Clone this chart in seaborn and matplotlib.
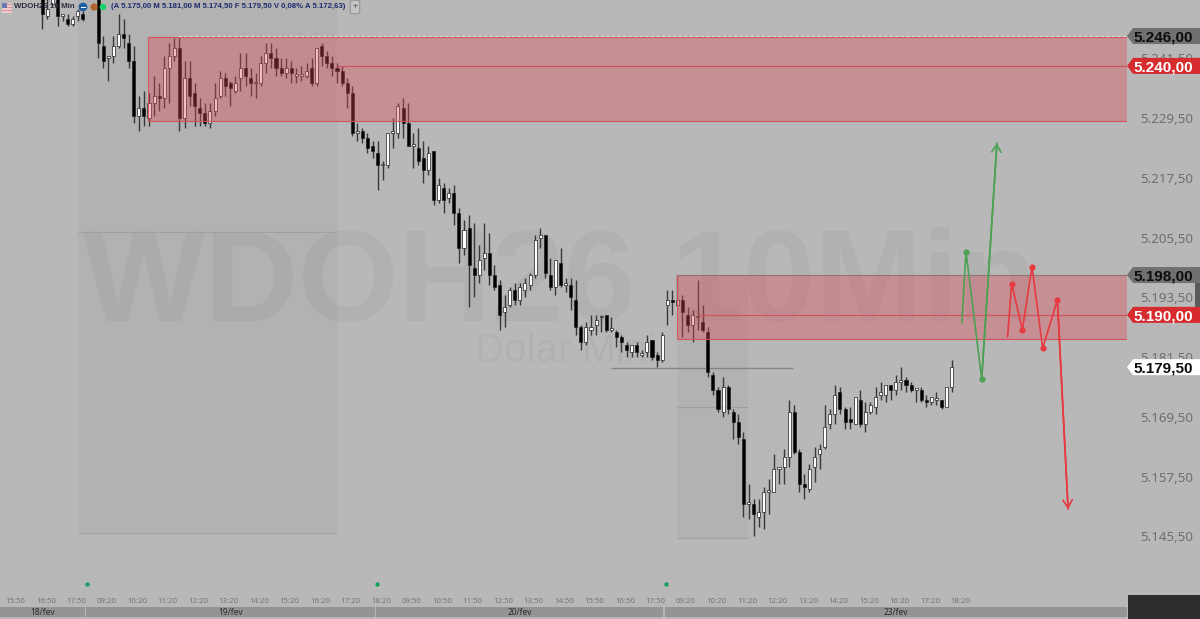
import numpy as np
import pandas as pd
import matplotlib
matplotlib.use("Agg")
import matplotlib.pyplot as plt
from matplotlib.patches import Polygon, Rectangle, Circle
from matplotlib.transforms import IdentityTransform
import seaborn as sns

# ── Data ──────────────────────────────────────────────────────
opens = [5256, 5250, 5252.5, 5256, 5250, 5249.5, 5248.5, 5250, 5250.5, 5256, 5255, 5256, 5244, 5241.5, 5242, 5244, 5246.5, 5244.5, 5241, 5230,
         5231.5, 5229.5, 5232.5, 5234, 5233.5, 5239.5, 5242, 5243.5, 5229.5, 5237.5, 5234.5, 5231.5, 5230.5, 5228.5, 5231, 5234, 5237.5, 5236.5, 5235, 5237.5,
         5239.5, 5237.5, 5236.5, 5236.5, 5240.5, 5242.5, 5241.5, 5239.5, 5238.5, 5239.5, 5238, 5238, 5238, 5239.5, 5236.5, 5244, 5242, 5240.5, 5239.5, 5239,
         5236.5, 5234.5, 5226.5, 5227, 5225.5, 5224, 5222.5, 5220, 5220, 5226.5, 5226.5, 5231.5, 5228.5, 5224, 5223.5, 5221.5, 5219, 5223, 5213, 5215.5,
         5213.5, 5214.5, 5210.5, 5203.5, 5207.5, 5199.5, 5198, 5201.5, 5202.5, 5198, 5196, 5190.5, 5192, 5195, 5193, 5195, 5196, 5198, 5205.5, 5206,
         5198, 5195.5, 5200.5, 5196, 5196, 5193, 5187.5, 5184.5, 5187, 5188, 5189.5, 5190, 5187, 5186.5, 5185.5, 5184, 5182.5, 5184, 5182, 5182.5,
         5185, 5182, 5181, 5192, 5193, 5192, 5193, 5190, 5188, 5189.5, 5188.5, 5186.5, 5178, 5175, 5170.5, 5175.5, 5170.5, 5168.5, 5165, 5152,
         5152, 5149.5, 5150.5, 5154.5, 5154.5, 5159, 5159.5, 5161.5, 5170.5, 5162.5, 5156, 5155, 5159.5, 5162, 5163.5, 5168, 5170, 5174.5, 5171, 5169,
         5168, 5173, 5168, 5170.5, 5171.5, 5174, 5174, 5176, 5175, 5176.5, 5177, 5176, 5175, 5175, 5173, 5172.5, 5173, 5173, 5171.5, 5175.5]
highs = [5258, 5254, 5256, 5257, 5250.5, 5250.5, 5250, 5251.5, 5251, 5257, 5257, 5257, 5246, 5242, 5246, 5250.5, 5249.5, 5246.5, 5244, 5234,
         5235, 5234.5, 5238, 5236.5, 5242, 5244.5, 5245.5, 5246, 5241, 5241, 5236.5, 5233.5, 5232.5, 5232.5, 5236.5, 5239, 5238.5, 5237, 5238, 5242.5,
         5242.5, 5239.5, 5238.5, 5242, 5244.5, 5244.5, 5243.5, 5241.5, 5241.5, 5241, 5239.5, 5240, 5240.5, 5241.5, 5243.5, 5244.5, 5243, 5242, 5240.5, 5240,
         5237.5, 5236, 5228.5, 5227.5, 5226.5, 5225, 5225, 5221, 5226.5, 5229.5, 5232.5, 5233.5, 5232.5, 5226.5, 5227.5, 5225, 5224, 5223, 5217.5, 5216.5,
         5215.5, 5216, 5211.5, 5209, 5210, 5208.5, 5204, 5208.5, 5206.5, 5200, 5197, 5194, 5195.5, 5196.5, 5196.5, 5197.5, 5198.5, 5206, 5207.5, 5206,
         5201.5, 5201, 5203.5, 5197.5, 5197.5, 5197, 5188, 5188.5, 5190, 5190, 5190, 5190, 5189.5, 5187, 5186, 5184.5, 5184, 5184.5, 5183, 5186,
         5185, 5182.5, 5186.5, 5195, 5195, 5198, 5194, 5191.5, 5191, 5197, 5192, 5187.5, 5178.5, 5175.5, 5177.5, 5176, 5171, 5170, 5166.5, 5156,
         5153, 5153, 5155.5, 5157, 5162, 5159.5, 5163, 5173, 5172, 5163, 5158, 5160, 5163.5, 5164, 5172, 5171, 5176, 5175.5, 5171.5, 5171.5,
         5173.5, 5175, 5172.5, 5172.5, 5175.5, 5176.5, 5176, 5176, 5178, 5179.5, 5177.5, 5176.5, 5175, 5175.5, 5174, 5173.5, 5174.5, 5173, 5175.5, 5181]
lows = [5247.5, 5249.5, 5252, 5248, 5249, 5248, 5248, 5249, 5249, 5253.5, 5254, 5241.5, 5239.5, 5237, 5240.5, 5243.5, 5243.5, 5239.5, 5228.5, 5227,
        5228, 5228, 5230, 5231, 5231.5, 5232.5, 5241, 5227, 5227.5, 5232, 5228, 5228, 5228, 5227.5, 5230, 5233.5, 5234, 5232, 5234.5, 5235,
        5236, 5234, 5233.5, 5236, 5238.5, 5239.5, 5238, 5238, 5237.5, 5236.5, 5236.5, 5237, 5237.5, 5236, 5236, 5240, 5239.5, 5238, 5236.5, 5236,
        5231.5, 5226, 5225, 5224.5, 5222.5, 5221.5, 5215, 5217, 5219.5, 5223.5, 5225.5, 5225.5, 5224, 5219.5, 5220, 5216.5, 5218, 5212, 5212.5, 5210.5,
        5212.5, 5208, 5200.5, 5202, 5191.5, 5193.5, 5196.5, 5199, 5196, 5195, 5187, 5187.5, 5191.5, 5192, 5192, 5193.5, 5195, 5197.5, 5203.5, 5197.5,
        5195, 5194, 5195.5, 5194.5, 5191, 5186, 5183, 5184, 5186, 5186, 5186.5, 5186.5, 5186.5, 5183.5, 5182.5, 5181.5, 5181.5, 5181.5, 5181.5, 5181.5,
        5181, 5179.5, 5180.5, 5188, 5190, 5191.5, 5185.5, 5186.5, 5184.5, 5187, 5186.5, 5177.5, 5174, 5170.5, 5169.5, 5170, 5165, 5164, 5149.5, 5149,
        5145.5, 5147.5, 5147, 5150, 5154.5, 5156, 5156, 5159.5, 5162, 5154.5, 5153, 5154.5, 5156.5, 5159, 5163, 5167, 5168, 5170, 5167, 5167,
        5168, 5167.5, 5166.5, 5170, 5170, 5173, 5172.5, 5173, 5174, 5175, 5174.5, 5174.5, 5172.5, 5172.5, 5171.5, 5172, 5172, 5171, 5171.5, 5174.5]
closes = [5250.5, 5251.5, 5254, 5250, 5250, 5248.5, 5249.5, 5251, 5249.5, 5254, 5256, 5244.5, 5241, 5242, 5244, 5246.5, 5245.5, 5241, 5230, 5231.5,
          5230, 5232.5, 5234, 5233.5, 5239.5, 5242, 5243.5, 5229.5, 5237.5, 5234, 5232, 5230.5, 5228.5, 5231, 5233.5, 5237.5, 5236, 5235.5, 5236.5, 5239.5,
          5238, 5236.5, 5236.5, 5240.5, 5242.5, 5241.5, 5239.5, 5238.5, 5239.5, 5238.5, 5238, 5238, 5239, 5236.5, 5243.5, 5242, 5240.5, 5239.5, 5239, 5236.5,
          5234.5, 5226.5, 5226.5, 5225.5, 5223.5, 5223, 5220, 5220, 5226.5, 5226.5, 5232, 5228.5, 5224, 5224, 5221, 5219, 5222.5, 5213, 5216, 5213,
          5214.5, 5210.5, 5203.5, 5207, 5200, 5198, 5201, 5202.5, 5198, 5195.5, 5190, 5191.5, 5195, 5193, 5195.5, 5196.5, 5198, 5205, 5206, 5198.5,
          5195.5, 5201, 5196, 5196, 5193.5, 5187.5, 5184.5, 5187.5, 5187.5, 5189, 5189.5, 5187, 5187, 5185.5, 5184.5, 5183, 5184, 5182.5, 5182, 5184.5,
          5181.5, 5181, 5186, 5193, 5192.5, 5193, 5190.5, 5188, 5190, 5189.5, 5187, 5178.5, 5175, 5171, 5175.5, 5171, 5168.5, 5165.5, 5152, 5152,
          5150, 5150.5, 5154.5, 5154.5, 5159, 5159.5, 5161.5, 5170.5, 5162.5, 5156, 5155.5, 5159, 5161.5, 5163, 5167.5, 5170, 5174, 5171, 5168.5, 5168.5,
          5173.5, 5168, 5170.5, 5172, 5173.5, 5174.5, 5176, 5175, 5176.5, 5177, 5176, 5175, 5175, 5173, 5172.5, 5173.5, 5173, 5171.5, 5175.5, 5179.5]

x_tick_labels = ["15:50", "16:50", "17:50", "09:20", "10:20", "11:20", "12:20", "13:20", "14:20", "15:20", "16:20",
                 "17:20", "18:20", "09:50", "10:50", "11:50", "12:50", "13:50", "14:50", "15:50", "16:50", "17:50",
                 "09:20", "10:20", "11:20", "12:20", "13:20", "14:20", "15:20", "16:20", "17:20", "18:20"]
y_tick_values = [5241.5, 5229.5, 5217.5, 5205.5, 5193.5, 5181.5, 5169.5, 5157.5, 5145.5]
y_tick_labels = ["5.241,50", "5.229,50", "5.217,50", "5.205,50", "5.193,50", "5.181,50", "5.169,50", "5.157,50", "5.145,50"]

session_labels = ["18/fev", "19/fev", "20/fev", "23/fev"]
session_starts = [-8.33, 8.6, 65.7, 122.6]
session_ends = [8.4, 65.5, 122.2, 213.5]
session_dot_x = [8.8, 65.9, 122.8]
session_dot_y = [5136, 5136, 5136]

green_x = [181, 181.8, 184.9, 187.9]
green_y = [5188.4, 5202.7, 5177.1, 5224.5]
red_x = [190, 190.8, 192.9, 194.8, 196.9, 199.8, 201.9]
red_y = [5185.6, 5196.3, 5187, 5199.7, 5183.3, 5193, 5151]

BG = "#b8b8b8"
ZONE = "#dc4a58"
TAG_RED = "#d62b2f"
TAG_GREY = "#707070"
LINE_RED = "#d6525b"

sns.set_theme(style="white", rc={"figure.facecolor": BG, "axes.facecolor": BG})
plt.rcParams["font.family"] = ["Noto Sans", "DejaVu Sans"]

W, H = 1200, 619
fig = plt.figure(figsize=(W / 100, H / 100), dpi=100, facecolor=BG)
ax = fig.add_axes([0, 1 - 595 / H, 1127 / W, 595 / H])
ax_dates = fig.add_axes([0, 1 - 617 / H, 1127 / W, 10.5 / H], sharex=ax)

ax.set_xlim(-8.33, 213.5)
ax.set_ylim(5133.75, 5253.23)
for spine in ax.spines.values():
    spine.set_visible(False)
ax.set_facecolor(BG)

# watermark
ax.text(0.497, 1 - 321 / 595, "WDOH26 10Min", transform=ax.transAxes, ha="center", va="baseline",
        fontsize=93, fontweight="bold", family="Liberation Sans", color="#b1b1b1", zorder=0)
ax.text(0.502, 1 - 362 / 595, "Dolar Mini", transform=ax.transAxes, ha="center", va="baseline",
        fontsize=29, family="Liberation Sans", color="#b1b1b1", zorder=0)

# shaded ranges behind the candles
for x0, x1, y0, y1, ymid in [(7, 58, 5146.2, 5253.23, 5206.6), (124.9, 138.9, 5145.2, 5198, 5171.5)]:
    ax.add_patch(Rectangle((x0, y0), x1 - x0, y1 - y0, facecolor="black", alpha=0.03, edgecolor="none", zorder=1))
    ax.hlines([y0, ymid], x0, x1, color="#a0a0a0", lw=0.8, zorder=1.5)
ax.hlines(5179.4, 112, 147.8, color="#868686", lw=1.0, zorder=1.5)

# candles
df = pd.DataFrame({"open": opens, "high": highs, "low": lows, "close": closes})
df["bar"] = np.arange(len(df))
df["top"] = df[["open", "close"]].max(axis=1)
df["bot"] = df[["open", "close"]].min(axis=1)
colors = ["white" if c >= o else "black" for o, c in zip(df["open"], df["close"])]
ax.vlines(df["bar"], df["low"], df["high"], color="#383838", lw=1.0, zorder=2)
ax.bar(df["bar"], (df["top"] - df["bot"]).clip(lower=0.35), bottom=df["bot"], width=0.6,
       color=colors, edgecolor="#222222", linewidth=0.5, zorder=3)

# supply zones, over the candles
for x0, y0, y1, top_col in [(20.8, 5228.9, 5245.8, LINE_RED), (124.9, 5185.1, 5198, "#8f7676")]:
    ax.add_patch(Rectangle((x0, y0), 213.5 - x0, y1 - y0, facecolor=ZONE, alpha=0.37, edgecolor="none", zorder=4))
    ax.hlines(y0, x0, 213.5, color=LINE_RED, lw=0.8, zorder=4.5)
    ax.hlines(y1, x0, 213.5, color=top_col, lw=0.8, zorder=4.5)
ax.vlines([20.8, 124.9], [5228.9, 5185.1], [5245.8, 5198], color=LINE_RED, lw=0.7, zorder=4.5)
ax.hlines(5240, 58, 213.5, color=LINE_RED, lw=0.8, zorder=4.5)
ax.hlines(5190, 129, 213.5, color=LINE_RED, lw=0.8, zorder=4.5)
ax.hlines(5246, 26.7, 213.5, color="#dcdcdc", lw=0.8, linestyles=(0, (3, 2)), zorder=4.5)

# projected paths
for xs, ys, col in [(green_x, green_y, "#4da153"), (red_x, red_y, "#e63a40")]:
    path = pd.DataFrame({"x": xs, "y": ys})
    sns.lineplot(data=path, x="x", y="y", sort=False, estimator=None, color=col, lw=1.2, ax=ax, zorder=6)
    sns.scatterplot(data=path.iloc[1:-1], x="x", y="y", color=col, s=20, linewidth=0, ax=ax, zorder=7)
    ax.annotate("", xy=(xs[-1], ys[-1]), xytext=(xs[-2], ys[-2]), zorder=6,
                arrowprops=dict(arrowstyle="->,head_length=0.45,head_width=0.28", color=col, lw=1.2,
                                shrinkA=0, shrinkB=0))

sns.scatterplot(x=session_dot_x, y=session_dot_y, color="#16a05e", s=10, linewidth=0, ax=ax, zorder=6)

ax.set_xlabel("")
ax.set_ylabel("")
ax.set_xticks(-5.3 + 6 * np.arange(len(x_tick_labels)))
ax.set_xticklabels(x_tick_labels)
ax.tick_params(axis="x", length=0, pad=2.2, labelsize=5.6, labelcolor="#747474", labelbottom=True)
ax.yaxis.tick_right()
ax.set_yticks(y_tick_values)
ax.set_yticklabels(y_tick_labels)
ax.tick_params(axis="y", length=0, pad=9.2, labelsize=9.6, labelcolor="#6e6e6e")

# date strip
ax_dates.set_ylim(0, 1)
ax_dates.axis("off")
ax_dates.barh([0.5] * 4, np.array(session_ends) - np.array(session_starts), left=session_starts, height=1,
              color="#949494", linewidth=0)
for s0, s1, lab in zip(session_starts, session_ends, session_labels):
    ax_dates.text((s0 + s1) / 2, 0.45, lab, ha="center", va="center", fontsize=6, color="#2a2a2a")


# price tags on the right, in pixel space
def price_tag(price, text, face, tcolor):
    yd = ax.transData.transform((0, price))[1]
    fig.add_artist(Polygon([(1127, yd), (1133, yd + 8), (1200, yd + 8), (1200, yd - 8), (1133, yd - 8)],
                           closed=True, facecolor=face, edgecolor="none", transform=IdentityTransform(), zorder=8))
    fig.text(1133 / W, yd / H, text, ha="left", va="center_baseline", fontsize=11, fontweight="bold",
             family="Liberation Sans", color=tcolor, zorder=9)


price_tag(5246, "5.246,00", TAG_GREY, "#0d0d0d")
price_tag(5240, "5.240,00", TAG_RED, "white")
price_tag(5198, "5.198,00", TAG_GREY, "#0d0d0d")
price_tag(5190, "5.190,00", TAG_RED, "white")
price_tag(5179.5, "5.179,50", "white", "#0d0d0d")

# small tab and dark corner
fig.add_artist(Rectangle((1195, H - 322), 5, 47, facecolor="#5a5a5a", edgecolor="none",
                         transform=IdentityTransform(), zorder=7))
fig.add_artist(Rectangle((1128, 0), 72, H - 595, facecolor="#2e2e2e", edgecolor="none",
                         transform=IdentityTransform(), zorder=8))

# header strip
fig.add_artist(Rectangle((2, H - 13), 10, 10, facecolor="#eccace", edgecolor="none",
                         transform=IdentityTransform(), zorder=9))
for sy in [H - 11, H - 8, H - 5]:
    fig.add_artist(Rectangle((2, sy), 10, 1, facecolor="#dd8f98", edgecolor="none",
                             transform=IdentityTransform(), zorder=9))
fig.add_artist(Rectangle((2, H - 8), 5, 5, facecolor="#6a78b4", edgecolor="none",
                         transform=IdentityTransform(), zorder=10))
fig.text(14 / W, 1 - 7 / H, "WDOH26 10 Min", fontsize=5.7, color="#2a2a3a", ha="left", va="center",
         fontweight="bold", family="Liberation Sans", zorder=9)
for cx, col, r in [(83, "#1f5f9e", 4.4), (94, "#b0642c", 3.6), (103, "#17d46e", 3.3)]:
    fig.add_artist(Circle((cx, H - 7), r, facecolor=col, edgecolor="none",
                          transform=IdentityTransform(), zorder=9))
fig.add_artist(Rectangle((80.5, H - 7.5), 5, 1, facecolor="white", edgecolor="none",
                         transform=IdentityTransform(), zorder=10))
fig.text(111 / W, 1 - 7 / H, "(A 5.175,00 M 5.181,00 M 5.174,50 F 5.179,50 V 0,08% A 5.172,63)",
         fontsize=5.6, color="#1c2a6e", ha="left", va="center", fontweight="bold",
         family="Liberation Sans", zorder=9)
fig.text(355 / W, 1 - 7 / H, "+", fontsize=6.5, color="#555555", ha="center", va="center", zorder=9,
         bbox=dict(boxstyle="round,pad=0.25", facecolor="#c4c4c4", edgecolor="#888888", linewidth=0.6))

fig.savefig("out.png", dpi=100, facecolor=BG)
